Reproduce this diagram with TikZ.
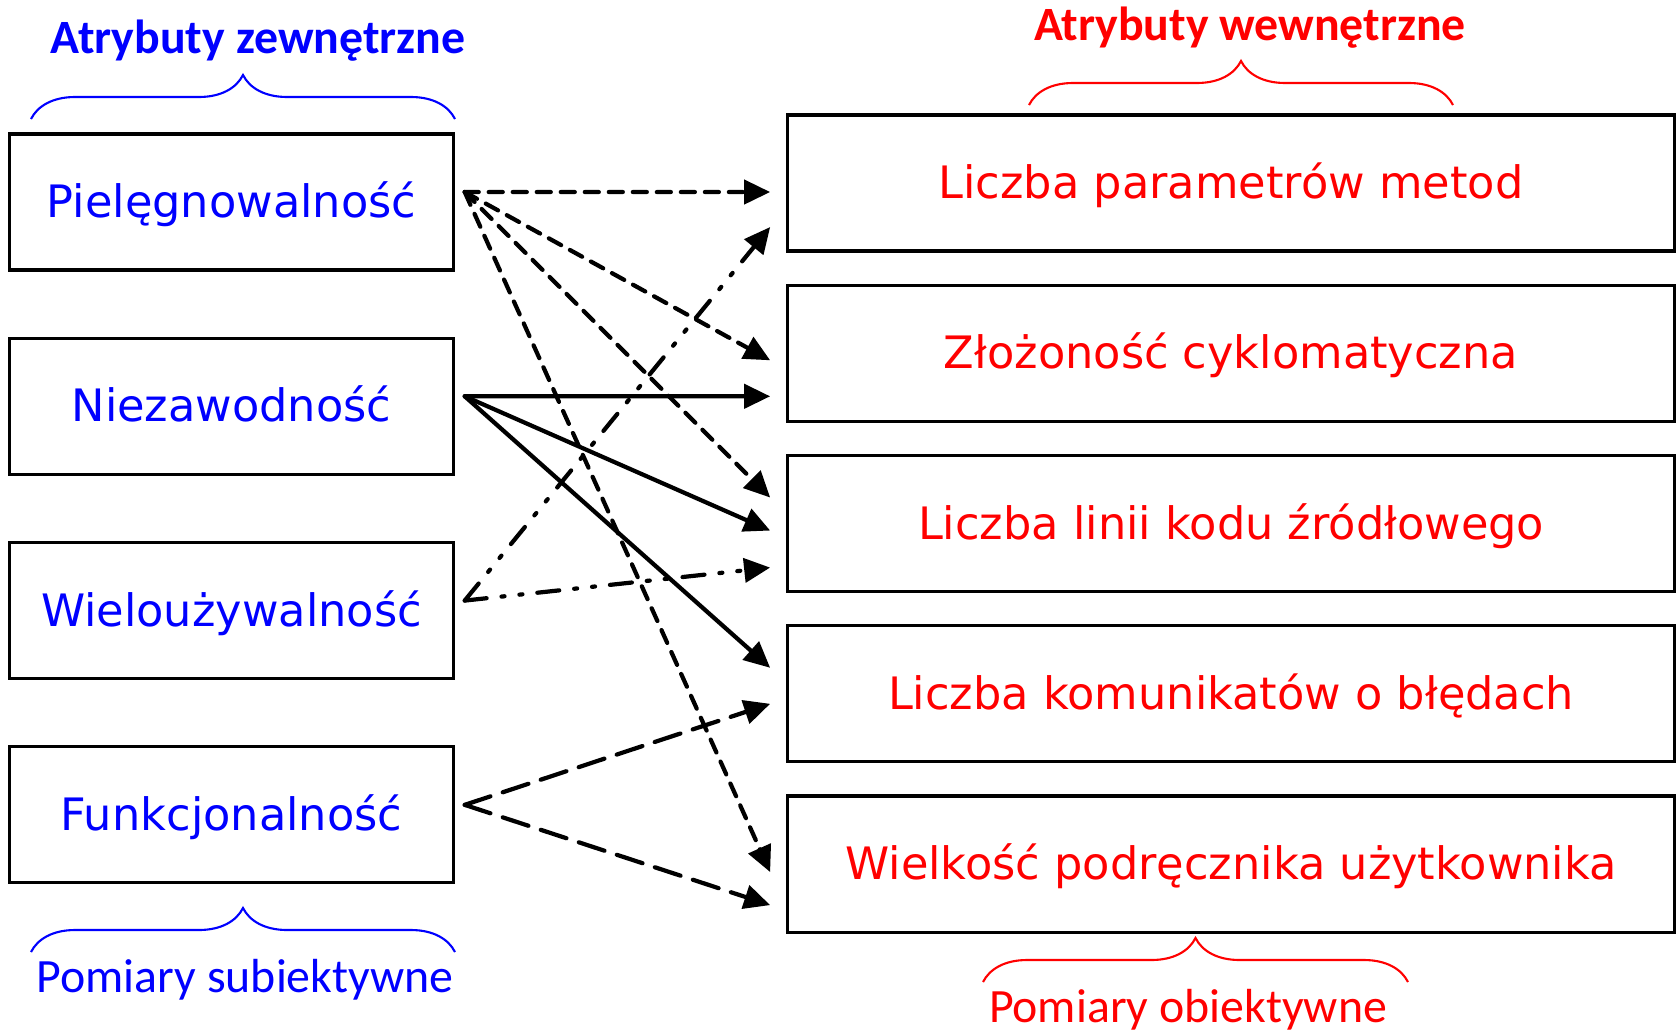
\documentclass[tikz,border=0pt]{standalone}
\usepackage{fontspec}
\setmainfont{DejaVu Sans}
\newfontfamily\labelfont{Carlito}
\usetikzlibrary{positioning,arrows.meta,decorations.pathreplacing}

\begin{document}
\begin{tikzpicture}
  [x=0.01cm, y=-0.01cm, auto,
  outbox/.style={rectangle, draw=black, line width=0.9pt, minimum width=4.43cm, minimum height=1.36cm,
    text=blue, font=\fontsize{12.7}{15}\selectfont, text height=0.31cm, text depth=0pt},
  inbox/.style={rectangle, draw=black, line width=0.9pt, minimum width=8.86cm, minimum height=1.36cm,
    text=red, font=\fontsize{12.7}{15}\selectfont, text height=0.31cm, text depth=0pt},
  tip/.style={-{Triangle[length=0.26cm,width=0.24cm]}, line width=1.2pt, line cap=round},
  dashline/.style={draw, tip, dash pattern=on 0.14cm off 0.10cm},
  fullline/.style={draw, tip},
  dotline/.style={draw, tip, dash pattern=on 0.22cm off 0.15cm on 0.03cm off 0.15cm on 0.03cm off 0.15cm},
  longline/.style={draw, tip, dash pattern=on 0.27cm off 0.13cm},
  bracket/.style={line width=0.6pt, decorate, decoration={brace, amplitude=0.44cm}},
  title/.style={anchor=base, font=\labelfont\fontsize{13.6}{16}\selectfont\bfseries},
  subtitle/.style={anchor=base, font=\labelfont\fontsize{13.6}{16}\selectfont}]
  \useasboundingbox (0,0) rectangle (1679,1029);

  % nodes
  \node [outbox] (piel) at (231.5,202) {Pielęgnowalność};
  \node [outbox, below=0.65cm of piel] (niez) {Niezawodność};
  \node [outbox, below=0.65cm of niez] (wielo) {Wieloużywalność};
  \node [outbox, below=0.65cm of wielo] (funk) {Funkcjonalność};

  \node [inbox] (lpm) at (1231,183) {Liczba parametrów metod};
  \node [inbox, below=0.31cm of lpm] (zc) {Złożoność cyklomatyczna};
  \node [inbox, below=0.31cm of zc] (llk) {Liczba linii kodu źródłowego};
  \node [inbox, below=0.31cm of llk] (lkb) {Liczba komunikatów o błędach};
  \node [inbox, below=0.31cm of lkb] (wpu) {Wielkość podręcznika użytkownika};

  \node [title, text=blue] (zewn) at (258,53) {Atrybuty zewnętrzne};
  \node [title, text=red] (wewn) at (1250,40) {Atrybuty wewnętrzne};
  \node [subtitle, text=blue] (subj) at (245,992) {Pomiary subiektywne};
  \node [subtitle, text=red] (obj) at (1188,1022) {Pomiary obiektywne};

  % braces
  \draw [bracket, blue] (31,119) -- (455,119);
  \draw [bracket, red] (1029,105) -- (1453,105);
  \draw [bracket, blue] (31,952) -- (455,952);
  \draw [bracket, red] (983,982) -- (1408,982);

  % arrow ends
  \coordinate (pielout) at ([xshift=0.1cm, yshift=0.1cm]piel.east);
  \coordinate (niezout) at ([xshift=0.1cm, yshift=0.1cm]niez.east);
  \coordinate (wieloout) at ([xshift=0.1cm, yshift=0.1cm]wielo.east);
  \coordinate (funkout) at ([xshift=0.1cm, yshift=0.1cm]funk.east);

  % edges
  \path [dashline] (pielout) -- ([xshift=-0.16cm, yshift=-0.09cm]lpm.west);
  \path [dashline] (pielout) -- ([xshift=-0.16cm, yshift=-0.07cm]zc.west);
  \path [dashline] (pielout) -- ([xshift=-0.16cm, yshift=0.26cm]llk.west);
  \path [dashline] (pielout) -- ([xshift=-0.16cm, yshift=-0.08cm]wpu.west);
  \path [fullline] (niezout) -- ([xshift=-0.16cm, yshift=-0.43cm]zc.west);
  \path [fullline] (niezout) -- ([xshift=-0.16cm, yshift=-0.07cm]llk.west);
  \path [fullline] (niezout) -- ([xshift=-0.16cm, yshift=0.26cm]lkb.west);
  \path [dotline] (wieloout) -- ([xshift=-0.16cm, yshift=-0.44cm]lpm.west);
  \path [dotline] (wieloout) -- ([xshift=-0.16cm, yshift=-0.44cm]llk.west);
  \path [longline] (funkout) -- ([xshift=-0.16cm, yshift=-0.10cm]lkb.west);
  \path [longline] (funkout) -- ([xshift=-0.16cm, yshift=-0.41cm]wpu.west);

\end{tikzpicture}
\end{document}
